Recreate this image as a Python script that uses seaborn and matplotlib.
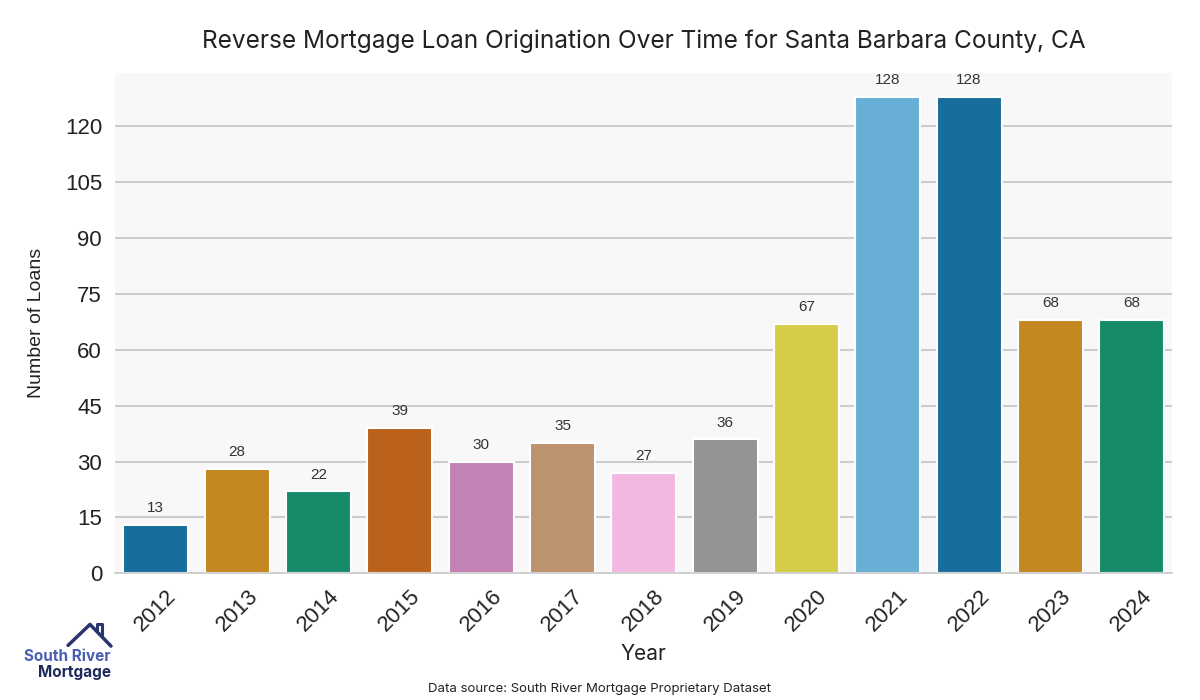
import matplotlib
matplotlib.use("Agg")
import matplotlib.pyplot as plt
import seaborn as sns
import pandas as pd
from matplotlib.lines import Line2D

years = ["2012", "2013", "2014", "2015", "2016", "2017", "2018",
         "2019", "2020", "2021", "2022", "2023", "2024"]
loans = [13, 28, 22, 39, 30, 35, 27, 36, 67, 128, 128, 68, 68]

df = pd.DataFrame({"Year": years, "Loans": loans})

sns.set_theme(style="whitegrid")
plt.rcParams['font.family'] = ['Liberation Sans', 'DejaVu Sans']

fig, ax = plt.subplots(figsize=(12, 7), dpi=100)
fig.subplots_adjust(left=0.096, right=0.977, top=0.896, bottom=0.181)
ax.set_facecolor("#f8f8f8")

pal = sns.color_palette("colorblind", 10)
colors = [pal[i % 10] for i in range(len(years))]
sns.barplot(data=df, x="Year", y="Loans", hue="Year", palette=colors,
            legend=False, ax=ax, edgecolor="white", linewidth=1.5, width=0.8)

for i, v in enumerate(loans):
    ax.text(i, v + 2.6, str(v), ha="center", va="bottom", fontsize=11, color="#333333")

ax.set_ylim(0, 134.4)
ax.set_yticks(range(0, 121, 15))
ax.grid(axis="x", visible=False)
ax.grid(axis="y", color="#cccccc", linewidth=1.5)
for s in ["top", "right", "left"]:
    ax.spines[s].set_visible(False)
ax.spines["bottom"].set_color("#cccccc")

ax.tick_params(axis="x", labelsize=16, rotation=45, colors="#222222", pad=3)
ax.tick_params(axis="y", labelsize=16, colors="#222222")
ax.set_xlabel("Year", fontsize=15, family=["Inter", "DejaVu Sans"], color="#222222", labelpad=6)
ax.set_ylabel("Number of Loans", fontsize=14, color="#222222", labelpad=14)
ax.set_title("Reverse Mortgage Loan Origination Over Time for Santa Barbara County, CA",
             fontsize=17.6, family=["Inter", "DejaVu Sans"], color="#222222", pad=18)

fig.text(0.5, 0.012, "Data source: South River Mortgage Proprietary Dataset",
         ha="center", fontsize=9.5, family=["Inter", "DejaVu Sans"], color="#222222")

# logo
fig.text(0.0925, 0.056, "South River", fontsize=11, weight="bold", color="#4a5fb0",
         ha="right", family=["Inter", "DejaVu Sans"])
fig.text(0.0925, 0.033, "Mortgage", fontsize=11, weight="bold", color="#1f2a5c",
         ha="right", family=["Inter", "DejaVu Sans"])
fig.add_artist(Line2D([0.0567, 0.075, 0.0925], [0.078, 0.108, 0.077],
                      transform=fig.transFigure, color="#2a3570", lw=2.5))
fig.add_artist(Line2D([0.081, 0.081, 0.085, 0.085], [0.099, 0.109, 0.109, 0.092],
                      transform=fig.transFigure, color="#2a3570", lw=2.2))

fig.savefig("out.png", dpi=100)
